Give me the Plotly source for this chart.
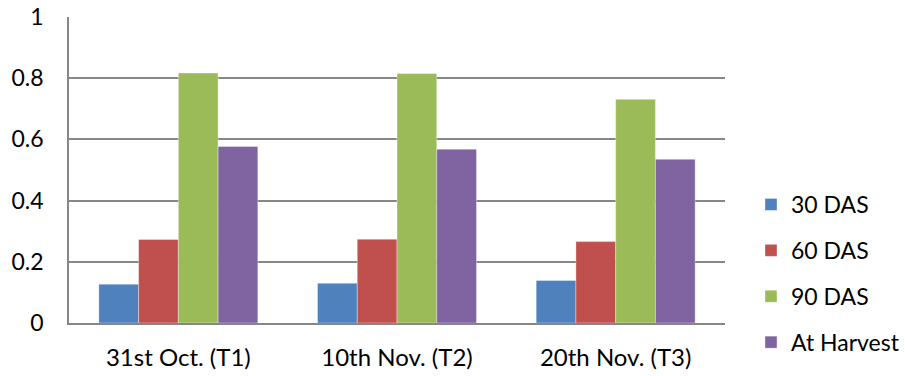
import plotly.graph_objects as go

# Sowing dates (treatments) and values at each growth stage
dates = ["31st Oct. (T1)", "10th Nov. (T2)", "20th Nov. (T3)"]
das30 = [0.127, 0.130, 0.139]
das60 = [0.273, 0.274, 0.266]
das90 = [0.817, 0.815, 0.731]
harvest = [0.577, 0.568, 0.535]

series = [
    ("30 DAS", das30, "#4F81BD"),
    ("60 DAS", das60, "#C0504D"),
    ("90 DAS", das90, "#9BBB59"),
    ("At Harvest", harvest, "#8064A2"),
]

font_family = "Lato, 'Open Sans', sans-serif"
grid = "#878787"

fig = go.Figure()
for name, vals, color in series:
    fig.add_trace(go.Bar(
        x=dates, y=vals, name=name, legendgroup=name,
        marker=dict(color=color, line=dict(color="rgba(255,255,255,0.6)", width=0.6)),
    ))

fig.update_layout(
    width=905, height=376,
    margin=dict(l=69, r=180, t=17, b=53),
    paper_bgcolor="white", plot_bgcolor="white",
    barmode="group", bargap=0.273, bargroupgap=0,
    font=dict(family=font_family, size=24, color="#000000"),
    showlegend=True,
    legend=dict(
        xref="container", yref="container",
        x=751 / 905, xanchor="left", y=1 - 273.5 / 376, yanchor="middle",
        font=dict(family=font_family, size=23, color="#000000"),
        tracegroupgap=13, bgcolor="rgba(0,0,0,0)",
        itemwidth=30,
    ),
)
fig.update_xaxes(
    showline=True, linecolor=grid, linewidth=1.5,
    showgrid=False, ticks="", ticklabelstandoff=12,
    tickfont=dict(size=24), automargin=False,
)
fig.update_yaxes(
    range=[0, 1], tickvals=[0, 0.2, 0.4, 0.6, 0.8, 1],
    ticktext=["0", "0.2", "0.4", "0.6", "0.8", "1"],
    showline=True, linecolor=grid, linewidth=1.5,
    showgrid=True, gridcolor=grid, gridwidth=1.5,
    zeroline=False, ticks="", ticklabelstandoff=19,
    tickfont=dict(size=23), automargin=False,
)

fig.write_html("out.html")
